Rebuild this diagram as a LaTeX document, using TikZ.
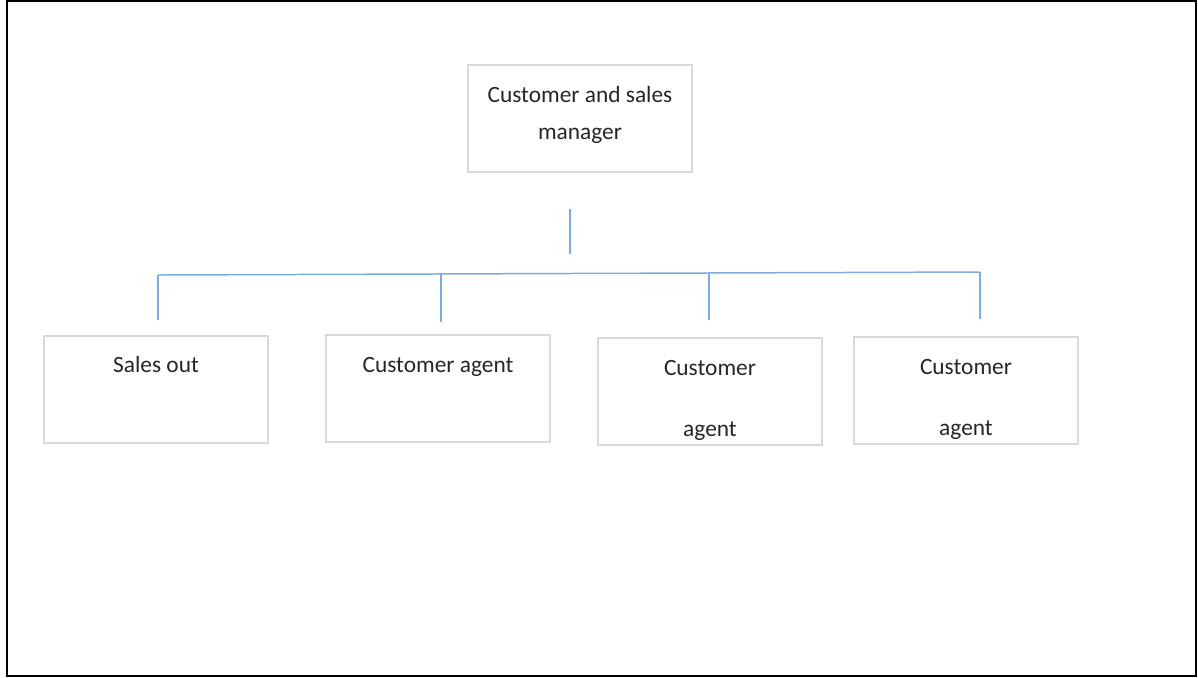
\documentclass[tikz,border=0pt]{standalone}
\usepackage{fontspec}
\setmainfont{Carlito}
\usepackage{tikz}
\usetikzlibrary{calc}

\definecolor{lineblue}{RGB}{125,172,222}
\definecolor{boxgray}{RGB}{217,217,217}
\definecolor{txtgray}{RGB}{38,38,38}

\tikzset{
    box/.style={draw=boxgray, line width=1pt, rectangle, inner sep=0pt,
        minimum width=4.48cm, align=center, text=txtgray,
        font=\fontsize{13.3}{16}\selectfont},
    link/.style={draw=lineblue, line width=0.85pt}
}

\begin{document}
\begin{tikzpicture}[x=0.02cm, y=-0.02cm]
    \useasboundingbox (0,0) rectangle (1198,677);
    \draw[line width=1.3pt] (7,1) rectangle (1196,676);

    % Nodes
    \node[box, text height=1.48cm, text depth=0.66cm] (mgr) at (580,118.5) {Customer and sales\\[5pt]manager};
    \node[box, text height=0.72cm, text depth=1.42cm] (out) at (156,389.5) {Sales out};
    \node[box, text height=0.74cm, text depth=1.40cm] (agentA) at (438,388.5) {Customer agent};
    \node[box, text height=1.97cm, text depth=0.17cm] (agentB) at (710,391.5) {Customer\\[19pt]agent};
    \node[box, text height=1.97cm, text depth=0.17cm] (agentC) at (966,390.5) {Customer\\[19pt]agent};

    % Joints
    \coordinate (stubT) at (570,209);
    \coordinate (stubB) at (570,254);
    \coordinate (busA) at (158,275);
    \coordinate (busB) at (441,274);
    \coordinate (busC) at (709,273);
    \coordinate (busD) at (980,272);
    \coordinate (dropA) at (158,320);
    \coordinate (dropB) at (441,322);
    \coordinate (dropC) at (709,320);
    \coordinate (dropD) at (980,319);

    % Edges
    \draw[link] (stubT) -- (stubB);
    \draw[link] (busA) -- (busD);
    \draw[link] (busA) -- (dropA);
    \draw[link] (busB) -- (dropB);
    \draw[link] (busC) -- (dropC);
    \draw[link] (busD) -- (dropD);
\end{tikzpicture}
\end{document}
